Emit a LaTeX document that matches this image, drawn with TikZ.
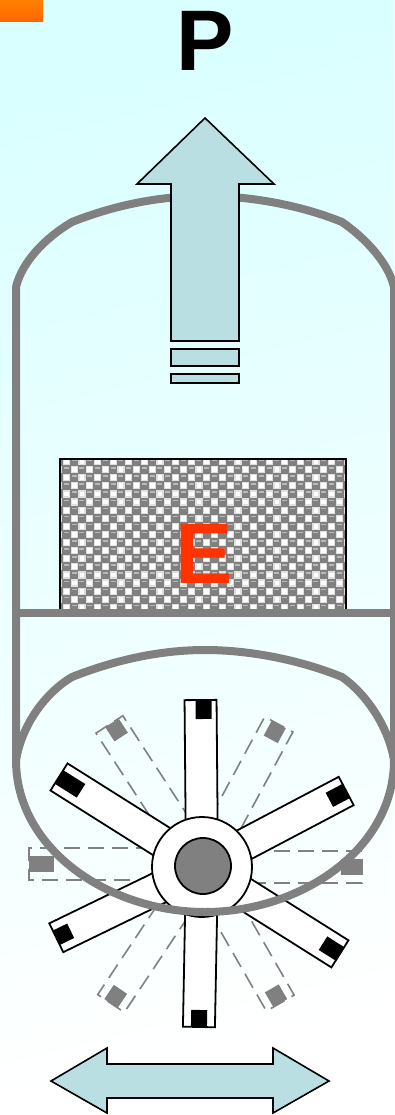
\documentclass[tikz,border=0pt]{standalone}
\usepackage{fontspec}
\setmainfont{Liberation Sans}
\definecolor{bgtop}{RGB}{218, 255, 255}
\definecolor{arrowblue}{RGB}{185, 223, 226}
\definecolor{wallgray}{RGB}{128, 128, 128}
\definecolor{flame}{RGB}{255, 51, 0}
\definecolor{orangetop}{RGB}{255, 128, 0}
\definecolor{orangelow}{RGB}{255, 102, 0}
\usetikzlibrary{positioning}
\tikzset{
  wall/.style={draw=wallgray, line width=8pt, line join=round},
  bluearrow/.style={draw=black, fill=arrowblue, line width=1.6pt, line join=miter},
  blade/.style={draw=black, fill=white, line width=1.8pt},
  ghostblade/.style={draw=wallgray, line width=1.6pt, dash pattern=on 16pt off 8pt},
  biglabel/.style={inner sep=0pt, font=\bfseries\fontsize{86}{86}\selectfont}
}

\begin{document}
\begin{tikzpicture}[x=1pt, y=-1pt]
  \useasboundingbox (0,0) rectangle (394,1115);
  \shade[top color=bgtop, bottom color=white, shading angle=14] (0,0) rectangle (394,1115);
  \shade[top color=orangetop, bottom color=orangelow] (0,0) rectangle (43,22);

  % porous block
  \begin{scope}
    \clip (60,459) rectangle (346,609);
    \fill[wallgray] (60,459) rectangle (346,609);
    \foreach \row in {0,...,19}{
      \pgfmathsetmacro{\shiftx}{mod(\row+1,2)*7.8}
      \pgfmathsetmacro{\blobx}{mod(\row,2)*7.8}
      \foreach \col in {0,...,19}{
        \fill[white, draw=white!75!wallgray, line width=1.2pt]
          ({55.5+\shiftx+\col*15.6},{458.5+\row*8.1}) rectangle +(6,6);
        \fill[white!45!wallgray]
          ({56+\blobx+\col*15.6},{459+\row*8.1}) rectangle +(5,1.5);
      }
    }
  \end{scope}
  \draw[black, line width=1.8pt] (60,609) -- (60,459) -- (346,459) -- (346,609);
  \node[biglabel, text=flame] (energy) at (204.5,553.5) {E};

  % dashed blades
  \foreach \ang/\len/\blk/\sx/\bx in {33/170/17/0/3, -28.3/162/17/0/0, -90/160/21/0/0, 90/173/25/3/0, 146.3/164/17/0/0, -150.1/157/17/0/0}{
    \begin{scope}[shift={(202,867)}, rotate=\ang, xshift=\sx]
      \draw[ghostblade] (-16,0) -- (-16,-\len) -- (16,-\len) -- (16,0);
      \fill[wallgray] ({\bx-8},-\len) rectangle ({\bx+8},{-\len+\blk});
    \end{scope}
  }

  % solid blades
  \foreach \ang/\len/\blk/\bx in {0.5/167/19/3, 57.8/169/26/0, -62.2/163/19/0, 115.9/162/16/0, -122.2/163/20/0, 178.9/160/17/0}{
    \begin{scope}[shift={(202,867)}, rotate=\ang]
      \draw[blade] (-16,0) rectangle (16,-\len);
      \fill[black] ({\bx-8},-\len) rectangle ({\bx+8},{-\len+\blk});
    \end{scope}
  }
  \node[circle, draw=black, fill=white, line width=1.8pt, minimum size=100pt, inner sep=0pt] (hub) at (202,867) {};
  \node[circle, draw=black, fill=wallgray, line width=1.8pt, minimum size=56pt, inner sep=0pt] (shaft) at (203,866) {};

  % cylinder and piston
  \draw[wall] (16,760) -- (16,287) .. controls (22,262) and (45,238) .. (72,222)
    .. controls (115,205) and (160,196) .. (205,196)
    .. controls (250,196) and (300,205) .. (342,222)
    .. controls (365,238) and (388,262) .. (394,287) -- (394,760);
  \draw[wall] (12,613) -- (394,613);
  \draw[wall] (16,760) .. controls (16,850) and (110,912) .. (205,912)
    .. controls (300,912) and (394,850) .. (394,760);
  \draw[wall] (16,760) .. controls (22,725) and (45,693) .. (72,677)
    .. controls (115,660) and (160,650) .. (205,650)
    .. controls (250,650) and (300,660) .. (342,677)
    .. controls (365,693) and (388,725) .. (394,760);

  % arrows
  \draw[bluearrow] (205,118) -- (274,184) -- (239,184) -- (239,341) -- (171,341) -- (171,184) -- (137,184) -- cycle;
  \draw[bluearrow] (171,349) rectangle (239,366);
  \draw[bluearrow] (171,374) rectangle (239,383);
  \draw[bluearrow] (51,1081) -- (107,1048) -- (107,1064) -- (273,1064) -- (273,1048) -- (329,1081)
    -- (273,1113) -- (273,1098) -- (107,1098) -- (107,1113) -- cycle;
  \node[biglabel, text=black] (power) at (205,41) {P};
\end{tikzpicture}
\end{document}
